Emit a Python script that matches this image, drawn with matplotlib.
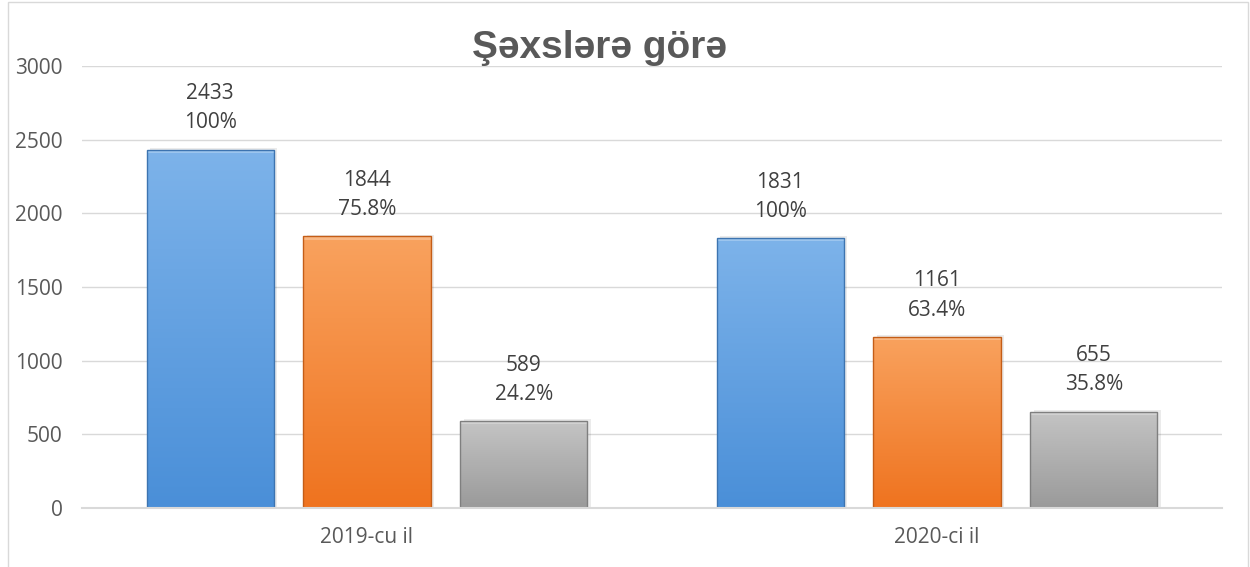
import numpy as np
import matplotlib.pyplot as plt
from matplotlib.patches import Rectangle
from matplotlib.colors import LinearSegmentedColormap

categories = ['2019-cu il', '2020-ci il']
total = [2433, 1831]
part_a = [1844, 1161]
part_b = [589, 655]
pct_total = ['100%', '100%']
pct_a = ['75.8%', '63.4%']
pct_b = ['24.2%', '35.8%']

series = [total, part_a, part_b]
pcts = [pct_total, pct_a, pct_b]
grads = [('#4a8fd8', '#7db3ea'), ('#ef731f', '#f9a25e'), ('#9a9a9a', '#c4c4c4')]
edges = ['#3d74b0', '#c45d17', '#7f7f7f']

plt.rcParams['font.family'] = ['Open Sans', 'DejaVu Sans']

fig = plt.figure(figsize=(12.5, 5.67), dpi=100)
ax = fig.add_axes([0.0656, 0.104, 0.912, 0.7796])

width = 0.223
offs = [-0.275, 0.0, 0.275]
x = np.arange(len(categories))

for k, vals in enumerate(series):
    cmap = LinearSegmentedColormap.from_list('g%d' % k, grads[k])
    for i, v in enumerate(vals):
        x0 = x[i] + offs[k] - width / 2
        # soft shadow
        ax.add_patch(Rectangle((x0 + 0.006, 0), width, v + 12, color='#000000',
                               alpha=0.08, lw=0, zorder=2))
        bar = ax.bar(x[i] + offs[k], v, width, color='none', edgecolor=edges[k],
                     lw=1.0, zorder=4)[0]
        grad = np.linspace(0, 1, 200).reshape(-1, 1)
        im = ax.imshow(grad, cmap=cmap, aspect='auto', origin='lower',
                       extent=[x0, x0 + width, 0, v], zorder=3)
        im.set_clip_path(bar)
        # bevel highlight at top
        ax.add_patch(Rectangle((x0, v - 22), width, 22, color='white',
                               alpha=0.25, lw=0, zorder=3.5))
        ax.text(x[i] + offs[k], v + 380, str(v), ha='center', va='center',
                fontsize=15, color='#404040')
        ax.text(x[i] + offs[k], v + 183, pcts[k][i], ha='center', va='center',
                fontsize=15, color='#404040')

ax.set_xlim(-0.5, 1.5)
ax.set_ylim(0, 3000)
ax.set_yticks(range(0, 3001, 500))
ax.set_xticks(x)
ax.set_xticklabels(categories)
ax.tick_params(axis='both', length=0, labelsize=15, colors='#595959')
ax.tick_params(axis='y', pad=14)
ax.tick_params(axis='x', pad=14)
ax.grid(axis='y', color='#d9d9d9', lw=1)
ax.set_axisbelow(True)
for s in ['top', 'right', 'left']:
    ax.spines[s].set_visible(False)
ax.spines['bottom'].set_color('#d9d9d9')
ax.spines['bottom'].set_linewidth(1.5)
ax.spines['bottom'].set_zorder(5)

fig.text(0.48, 0.915, 'Şəxslərə görə', ha='center', va='center', fontsize=28,
         fontweight='bold', color='#595959', family=['Liberation Sans', 'DejaVu Sans'])

fig.patches.append(Rectangle((0.006, -0.1), 0.992, 1.097, transform=fig.transFigure,
                             fill=False, edgecolor='#d9d9d9', lw=1))

fig.savefig('out.png', dpi=100)
